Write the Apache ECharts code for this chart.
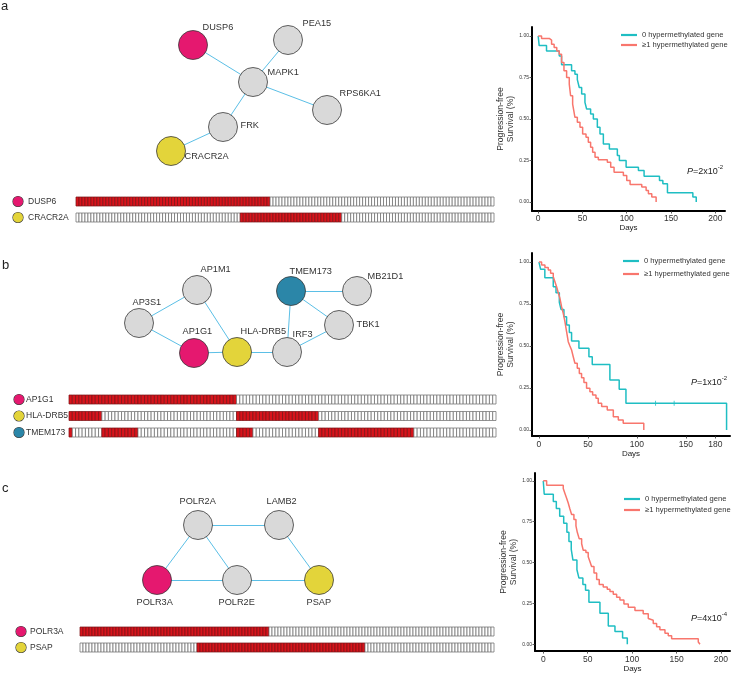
<!DOCTYPE html>
<html><head><meta charset="utf-8">
<script src="https://cdn.jsdelivr.net/npm/echarts@6/dist/echarts.min.js"></script>
<style>html,body{margin:0;padding:0;background:#fff}#c{width:741px;height:674px}</style>
</head><body><div id="c"></div><script>
const FONT = '"Liberation Sans", Arial, Helvetica, sans-serif';
const TEAL = '#1FBEC3', SALMON = '#F8766D';
const PINK = '#E5186F', YELLOW = '#E3D43A', BLUE = '#2B86A8', GREY = '#D9D9D9';
const EDGE = '#5BBFE6';

// ---------- networks ----------
const netA_nodes = ['DUSP6','PEA15','MAPK1','RPS6KA1','FRK','CRACR2A'];
const netA_edges = [['DUSP6','MAPK1'],['PEA15','MAPK1'],['MAPK1','RPS6KA1'],['MAPK1','FRK'],['FRK','CRACR2A']];
const netA_colors = {DUSP6: PINK, CRACR2A: YELLOW};
const netA_layout = [[193,45],[288,40],[253,82],[327,110],[223,127],[171,151]];
const netA_labelOff = [[10,-17],[15,-16],[15,-9],[13,-16],[18,-1],[14,6]];

const netB_nodes = ['AP1M1','AP3S1','AP1G1','HLA-DRB5','IRF3','TMEM173','MB21D1','TBK1'];
const netB_edges = [['AP3S1','AP1M1'],['AP3S1','AP1G1'],['AP1M1','HLA-DRB5'],['AP1G1','HLA-DRB5'],['HLA-DRB5','IRF3'],['IRF3','TMEM173'],['IRF3','TBK1'],['TMEM173','TBK1'],['TMEM173','MB21D1']];
const netB_colors = {AP1G1: PINK, 'HLA-DRB5': YELLOW, TMEM173: BLUE};
const netB_layout = [[197,290],[139,323],[194,353],[237,352],[287,352],[291,291],[357,291],[339,325]];
const netB_labelOff = [[4,-20],[-6,-20],[-11,-21],[4,-20],[6,-17],[-1,-19],[11,-14],[18,0]];

const netC_nodes = ['POLR2A','LAMB2','POLR3A','POLR2E','PSAP'];
const netC_edges = [['POLR2A','LAMB2'],['POLR2A','POLR3A'],['POLR2A','POLR2E'],['LAMB2','PSAP'],['POLR3A','POLR2E'],['POLR2E','PSAP']];
const netC_colors = {POLR3A: PINK, PSAP: YELLOW};
const netC_layout = [[198,525],[279,525],[157,580],[237,580],[319,580]];
const netC_labelOff = [[-18,-23],[-12,-23],[-20,23],[-18,23],[-12,23]];

// ---------- oncoprints (run-length: [status, count]) ----------
const oncoA_genes = ['DUSP6','CRACR2A'];
const oncoA_colors = [PINK, YELLOW];
const oncoA_DUSP6 = [[1,65],[0,75]];
const oncoA_CRACR2A = [[0,55],[1,34],[0,51]];

const oncoB_genes = ['AP1G1','HLA-DRB5','TMEM173'];
const oncoB_colors = [PINK, YELLOW, BLUE];
const oncoB_AP1G1 = [[1,51],[0,79]];
const oncoB_HLADRB5 = [[1,10],[0,41],[1,25],[0,54]];
const oncoB_TMEM173 = [[1,1],[0,9],[1,11],[0,30],[1,5],[0,20],[1,29],[0,25]];

const oncoC_genes = ['POLR3A','PSAP'];
const oncoC_colors = [PINK, YELLOW];
const oncoC_POLR3A = [[1,63],[0,75]];
const oncoC_PSAP = [[0,39],[1,56],[0,43]];

// ---------- Kaplan-Meier curves [day, survival] ----------
const kmA_0 = [[0,1],[1.1,0.942],[9.4,0.91],[23.8,0.88],[26.4,0.827],[37.7,0.79],[41.5,0.77],[44.2,0.737],[46.4,0.69],[49.1,0.65],[52.8,0.60],[54.7,0.56],[59.2,0.53],[62.3,0.50],[66.8,0.45],[69.8,0.41],[73.6,0.35],[80.4,0.32],[89.4,0.28],[91.7,0.25],[99.3,0.21],[113.2,0.19],[119.6,0.155],[137,0.13],[140.8,0.11],[146,0.056],[174.7,0.03],[178.5,0]];
const kmA_1 = [[0,1],[3.8,0.985],[12.5,0.975],[15.1,0.95],[18,0.93],[21,0.91],[23.8,0.89],[26.4,0.84],[29.1,0.79],[32.1,0.75],[35.1,0.71],[36.6,0.64],[38.9,0.59],[40.2,0.55],[41.5,0.51],[44.2,0.48],[47.2,0.45],[50.2,0.41],[54,0.39],[56.6,0.36],[59.2,0.33],[61.5,0.30],[64.2,0.27],[67.9,0.255],[78.1,0.24],[81.9,0.21],[85.7,0.18],[96.2,0.16],[100,0.13],[103.8,0.106],[117,0.09],[121.9,0.07],[124.5,0.05],[128.3,0.03],[133.2,0]];
const kmB_0 = [[0,1],[1.7,0.957],[6,0.907],[14.6,0.853],[17.4,0.817],[20.8,0.76],[22.5,0.718],[25.5,0.675],[28.2,0.625],[31,0.58],[33.3,0.53],[40.8,0.486],[51,0.436],[54.4,0.39],[72.4,0.297],[81.9,0.242],[88.8,0.159],[191.5,0]];
const kmB_0_censor = [[119,0.159],[138,0.159]];
const kmB_1 = [[0,1],[2.7,0.982],[6.1,0.968],[9.5,0.952],[11.9,0.933],[14.6,0.913],[16.3,0.883],[18,0.853],[19.7,0.817],[21.4,0.784],[23.1,0.734],[24.8,0.694],[26.5,0.645],[28.2,0.585],[29.9,0.526],[31.6,0.5],[33.3,0.476],[35,0.436],[36.7,0.397],[39.1,0.367],[41.2,0.337],[43.5,0.311],[45.9,0.282],[48.6,0.248],[52,0.228],[54.8,0.208],[58.2,0.189],[60.5,0.159],[64,0.139],[69.7,0.119],[75.9,0.079],[81,0.06],[86,0.04],[107,0]];
const kmC_0 = [[0,1],[1.1,0.918],[11.3,0.873],[14.7,0.83],[18.5,0.784],[23,0.74],[26.6,0.685],[28.9,0.629],[31.5,0.581],[33.4,0.515],[37.9,0.456],[40.1,0.406],[44.6,0.366],[47.6,0.33],[51.4,0.257],[63.8,0.19],[73.2,0.112],[80.7,0.078],[89.3,0.038],[94.6,0]];
const kmC_1 = [[0,1],[3.8,0.973],[22.5,0.953],[24.4,0.923],[26.3,0.894],[28.1,0.864],[30,0.828],[31.9,0.794],[34.5,0.764],[36.8,0.724],[38.3,0.685],[40.5,0.645],[43.2,0.615],[45,0.575],[48,0.561],[50.6,0.535],[52.6,0.505],[54.4,0.476],[57.1,0.436],[60.1,0.396],[63,0.366],[67.5,0.35],[72,0.336],[75.1,0.322],[78.8,0.306],[82.6,0.287],[86.3,0.27],[90.8,0.247],[95.7,0.227],[103.2,0.207],[112.5,0.187],[118.2,0.157],[120.1,0.147],[123.8,0.127],[127.6,0.107],[131.3,0.088],[137,0.068],[140.7,0.052],[144.5,0.034],[174.5,0.014],[176.4,0]];

const kmA_xticks = [0,50,100,150,200];
const kmB_xticks = [0,50,100,150,180];
const kmC_xticks = [0,50,100,150,200];
const km_yticks = [0,0.25,0.5,0.75,1];
const legendNames = ['0 hypermethylated gene','\u22651 hypermethylated gene'];
const pA = {base:'2x10', exp:'-2'}, pB = {base:'1x10', exp:'-2'}, pC = {base:'4x10', exp:'-4'};

// ---------- builders ----------
function graphSeries(nodes, edges, colors, layout, offs){
  return {
    type:'graph', coordinateSystem:'cartesian2d', xAxisIndex:0, yAxisIndex:0,
    symbol:'circle', symbolSize:29, silent:true, animation:false,
    data: nodes.map((n,i)=>({name:n, value:layout[i],
      itemStyle:{color: colors[n] || GREY, borderColor:'#3a3a3a', borderWidth:0.8},
      label:{show:true, position:[14.5+offs[i][0], 14.5+offs[i][1]], align:'left', verticalAlign:'middle'}})),
    links: edges.map(e=>({source:e[0], target:e[1]})),
    lineStyle:{color:EDGE, width:1, opacity:1, curveness:0},
    label:{show:true, formatter:'{b}', fontSize:9.2, fontFamily:FONT, color:'#333'},
    emphasis:{disabled:true}
  };
}
function expandRuns(runs){ const out=[]; runs.forEach(([s,n])=>{ for(let k=0;k<n;k++) out.push(s); }); return out; }
function oncoSeries(idx, runsList){
  const data=[];
  runsList.forEach((runs,gi)=>{ expandRuns(runs).forEach((s,si)=>data.push([si,gi,s])); });
  return {type:'custom', xAxisIndex:idx, yAxisIndex:idx, data, encode:{x:0,y:1}, silent:true, animation:false,
    renderItem:(p,api)=>{
      const c = api.coord([api.value(0), api.value(1)]);
      const w = api.size([1,1])[0], h = 9;
      const alt = api.value(2)===1;
      return {type:'rect', shape:{x:c[0]-w/2, y:c[1]-h/2, width:w, height:h},
        style:{fill: alt ? '#D8131B' : '#FFFFFF', stroke: alt ? '#7E1518' : '#6F6F6F', lineWidth:0.75}};
    }};
}
function oncoAxes(idx, genes, colors, margin, gap, n){
  const rich = {t:{fontSize:8.5, fontFamily:FONT, color:'#333', padding:[0,0,0,gap]}};
  colors.forEach((c,i)=>{ rich['d'+i] = {width:10, height:10, borderRadius:5, backgroundColor:c, borderColor:'#333', borderWidth:0.6}; });
  return {
    x:{type:'category', gridIndex:idx, data:Array.from({length:n},(_, i)=>String(i)), show:false},
    y:{type:'category', gridIndex:idx, data:genes, inverse:true, axisLine:{show:false}, axisTick:{show:false},
       axisLabel:{align:'left', margin, rich, formatter:(v)=>'{d'+genes.indexOf(v)+'|}{t|'+v+'}'}}
  };
}
function kmAxes(idx, min, max, ticks, ymin, ymax, labelMargin, nameGap){
  return {
    x:{type:'value', gridIndex:idx, min, max, name:'Days', nameLocation:'middle', nameGap,
       nameTextStyle:{fontSize:8, fontFamily:FONT, color:'#222'},
       axisLine:{onZero:false, lineStyle:{color:'#000', width:2}},
       axisTick:{customValues:ticks, length:2.5, lineStyle:{color:'#333', width:0.8}},
       axisLabel:{customValues:ticks, fontSize:8.5, fontFamily:FONT, color:'#333', margin:labelMargin},
       splitLine:{show:false}},
    y:{type:'value', gridIndex:idx, min:ymin, max:ymax, name:'Progression-free\nSurvival (%)', nameLocation:'middle', nameGap:15,
       nameRotate:90, nameTextStyle:{fontSize:8.6, fontFamily:FONT, color:'#333', lineHeight:10},
       axisLine:{onZero:false, lineStyle:{color:'#000', width:2}},
       axisTick:{customValues:km_yticks, length:2.5, lineStyle:{color:'#333', width:0.8}},
       axisLabel:{customValues:km_yticks, fontSize:5, fontFamily:FONT, color:'#333', margin:3, formatter:v=>v.toFixed(2)},
       splitLine:{show:false}}
  };
}
function kmLine(idx, name, data, color){
  return {type:'line', name, xAxisIndex:idx, yAxisIndex:idx, data, step:'end', symbol:'none', showSymbol:false,
    lineStyle:{color, width:1.5}, itemStyle:{color}, animation:false, silent:true, z:3};
}
function kmLegend(left, top, gap){
  return {data:legendNames, left, top, orient:'vertical', icon:'rect', itemWidth:16, itemHeight:2.2, itemGap:gap,
    selectedMode:false, padding:0, textStyle:{fontSize:7.6, fontFamily:FONT, color:'#333'}};
}
function pText(left, top, p){
  return {type:'text', left, top, style:{text:'{i|P}{n|='+p.base+'}{s|'+p.exp+'}',
    rich:{i:{fontSize:9, fontStyle:'italic', fontFamily:FONT, fill:'#222', lineHeight:12, verticalAlign:'bottom'},
          n:{fontSize:9, fontFamily:FONT, fill:'#222', lineHeight:12, verticalAlign:'bottom'},
          s:{fontSize:6, fontFamily:FONT, fill:'#222', lineHeight:12, verticalAlign:'top'}}}};
}

const kA = kmAxes(1, -7, 211, kmA_xticks, -0.054, 1.054, 3, 8);
const kB = kmAxes(2, -7.1, 195, kmB_xticks, -0.036, 1.054, 4, 12);
const kC = kmAxes(3, -9.3, 210.2, kmC_xticks, -0.042, 1.048, 4, 11);
const oA = oncoAxes(4, oncoA_genes, oncoA_colors, 63, 5, 140);
const oB = oncoAxes(5, oncoB_genes, oncoB_colors, 55, 2, 130);
const oC = oncoAxes(6, oncoC_genes, oncoC_colors, 64, 4, 138);

const option = {
  animation:false,
  backgroundColor:'#fff',
  textStyle:{fontFamily:FONT},
  grid:[
    {left:0, top:0, width:741, height:674},
    {left:532, top:27, width:193, height:184},
    {left:532, top:253, width:198, height:183},
    {left:535, top:473, width:195, height:182},
    {left:76, top:193.5, width:418, height:32},
    {left:69, top:391.25, width:427, height:49.5},
    {left:80, top:623.5, width:414, height:32}
  ],
  xAxis:[
    {type:'value', gridIndex:0, min:0, max:741, show:false},
    kA.x, kB.x, kC.x, oA.x, oB.x, oC.x
  ],
  yAxis:[
    {type:'value', gridIndex:0, min:0, max:674, inverse:true, show:false},
    kA.y, kB.y, kC.y, oA.y, oB.y, oC.y
  ],
  legend:[kmLegend(621, 31, 2), kmLegend(623, 257, 5), kmLegend(624, 495, 3)],
  graphic:[
    {type:'text', left:1, top:0, style:{text:'a', fontSize:13, fontFamily:FONT, fill:'#222'}},
    {type:'text', left:2, top:259, style:{text:'b', fontSize:13, fontFamily:FONT, fill:'#222'}},
    {type:'text', left:2, top:482, style:{text:'c', fontSize:13, fontFamily:FONT, fill:'#222'}},
    pText(687, 164, pA), pText(691, 375, pB), pText(691, 611, pC)
  ],
  series:[
    graphSeries(netA_nodes, netA_edges, netA_colors, netA_layout, netA_labelOff),
    graphSeries(netB_nodes, netB_edges, netB_colors, netB_layout, netB_labelOff),
    graphSeries(netC_nodes, netC_edges, netC_colors, netC_layout, netC_labelOff),
    kmLine(1, legendNames[0], kmA_0, TEAL), kmLine(1, legendNames[1], kmA_1, SALMON),
    kmLine(2, legendNames[0], kmB_0, TEAL), kmLine(2, legendNames[1], kmB_1, SALMON),
    {type:'scatter', name:'censor', xAxisIndex:2, yAxisIndex:2, data:kmB_0_censor, symbol:'rect', symbolSize:[1,5], itemStyle:{color:TEAL}, silent:true},
    kmLine(3, legendNames[0], kmC_0, TEAL), kmLine(3, legendNames[1], kmC_1, SALMON),
    oncoSeries(4, [oncoA_DUSP6, oncoA_CRACR2A]),
    oncoSeries(5, [oncoB_AP1G1, oncoB_HLADRB5, oncoB_TMEM173]),
    oncoSeries(6, [oncoC_POLR3A, oncoC_PSAP])
  ]
};
const chart = echarts.init(document.getElementById('c'), null, {renderer:'canvas'});
chart.setOption(option);
</script></body></html>
